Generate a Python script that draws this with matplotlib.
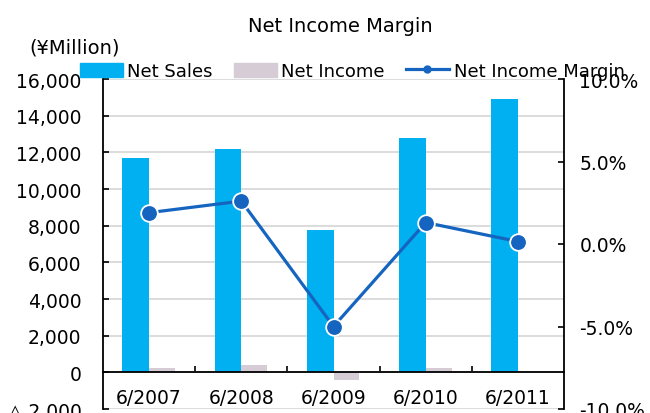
import matplotlib.pyplot as plt
import matplotlib.lines as mlines
import matplotlib.patches as mpatches
from matplotlib.ticker import FuncFormatter, MultipleLocator

# Data
periods = ["6/2007", "6/2008", "6/2009", "6/2010", "6/2011"]
net_sales = [11700, 12200, 7750, 12800, 14900]  # ¥ million
net_income = [220, 400, -420, 220, 20]  # ¥ million
margin = [1.9, 2.6, -5.0, 1.3, 0.15]  # %

sales_color = "#00B0F0"
income_color = "#D5CCD6"
line_color = "#1565C0"
grid_color = "#D9D9D9"
fs = 13.5

plt.rcParams["font.family"] = ["DejaVu Sans"]

fig = plt.figure(figsize=(6.5, 4.14), dpi=100)
ax1 = fig.add_axes([103 / 650, 4 / 414, (564 - 103) / 650, (410 - 80) / 414])

x = list(range(len(periods)))

# Bars: sales just left of the category centre, income just right
ax1.bar([i - 0.29 for i in x], net_sales, width=0.29, align="edge",
        color=sales_color, zorder=2)
ax1.bar(x, net_income, width=0.28, align="edge", color=income_color, zorder=2)

ax1.set_xlim(-0.5, len(periods) - 0.5)
ax1.set_ylim(-2000, 16000)
ax1.yaxis.set_major_locator(MultipleLocator(2000))


def yen_fmt(v, pos):
    if v < 0:
        return "\u25b3 {:,.0f}".format(-v)
    return "{:,.0f}".format(v)


ax1.yaxis.set_major_formatter(FuncFormatter(yen_fmt))
ax1.yaxis.grid(True, color=grid_color, linewidth=1.3, zorder=0)
ax1.set_axisbelow(True)
ax1.tick_params(axis="y", direction="in", length=4, width=1.2,
                labelsize=fs, pad=15.5)

# Category axis drawn along the zero line
ax1.spines["bottom"].set_position(("data", 0))
ax1.spines["bottom"].set_linewidth(1.3)
ax1.spines["top"].set_visible(False)
ax1.spines["right"].set_visible(False)
ax1.spines["left"].set_linewidth(1.3)
ax1.set_xticks([i + 0.5 for i in x[:-1]])
ax1.tick_params(axis="x", direction="in", length=4, width=1.2,
                labelbottom=False)
for i, p in zip(x, periods):
    ax1.text(i, -1360, p, ha="center", va="center", fontsize=fs)

# Secondary axis for the margin line
ax2 = ax1.twinx()
ax2.set_ylim(-10, 10)
ax2.yaxis.set_major_locator(MultipleLocator(5))
ax2.yaxis.set_major_formatter(FuncFormatter(lambda v, pos: "{:.1f}%".format(v)))
ax2.tick_params(axis="y", direction="in", length=4, width=1.2,
                labelsize=fs, pad=11)
for s in ["top", "bottom", "left"]:
    ax2.spines[s].set_visible(False)
ax2.spines["right"].set_linewidth(1.3)
ax2.plot(x, margin, color=line_color, linewidth=2.3, marker="o",
         markersize=12, markerfacecolor=line_color, markeredgecolor="white",
         markeredgewidth=1.3, zorder=3, clip_on=False)

# Titles
fig.text(340 / 650, 1 - 26 / 414, "Net Income Margin", ha="center",
         va="center", fontsize=14)
fig.text(29 / 650, 1 - 48 / 414, "(\u00a5Million)", ha="left", va="center",
         fontsize=14)

# Legend across the top
handles = [
    mpatches.Patch(color=sales_color, label="Net Sales"),
    mpatches.Patch(color=income_color, label="Net Income"),
    mlines.Line2D([], [], color=line_color, linewidth=2.3, marker="o",
                  markersize=5, label="Net Income Margin"),
]
fig.legend(handles=handles, loc="center", ncol=3,
           bbox_to_anchor=(352 / 650, 1 - 72 / 414), frameon=False,
           fontsize=13, handlelength=2.4, handleheight=0.85,
           handletextpad=0.25, columnspacing=1.15, borderpad=0,
           borderaxespad=0)

plt.savefig("out.png", dpi=100)
